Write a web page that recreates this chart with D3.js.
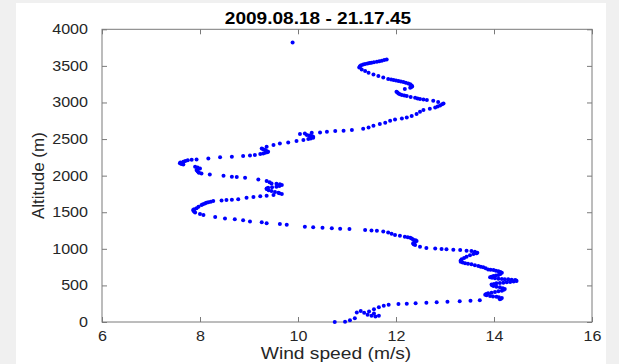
<!DOCTYPE html>
<html><head><meta charset="utf-8">
<script src="https://cdn.jsdelivr.net/npm/d3@7"></script>
<style>body{margin:0;background:#f0f0f0;overflow:hidden}svg{display:block}</style>
</head><body>
<svg id="c" width="619" height="364"></svg>
<script>
const title = "2009.08.18 - 21.17.45";
const xLabel = "Wind speed (m/s)";
const yLabel = "Altitude (m)";
const xTicks = [6, 8, 10, 12, 14, 16];
const yTicks = [0, 500, 1000, 1500, 2000, 2500, 3000, 3500, 4000];

const windSpeed = [
10.75,10.96,11.06,11.16,11.20,11.28,11.35,11.42,11.50,11.58,
11.65,11.55,11.45,11.55,11.65,11.75,11.85,12.05,12.22,12.40,
12.62,12.83,13.05,13.30,13.52,13.71,14.12,14.14,14.16,14.10,
14.05,13.98,13.92,13.85,13.82,13.84,13.88,13.95,14.02,14.09,
14.16,14.20,14.22,14.18,14.12,14.05,13.99,13.96,13.95,14.00,
14.05,14.12,14.19,14.26,14.33,14.40,14.46,14.45,14.43,14.36,
14.29,14.22,14.16,14.09,14.02,13.96,13.92,13.95,13.99,14.04,
14.09,14.13,14.16,14.13,14.09,14.04,13.99,13.93,13.88,13.83,
13.78,13.73,13.68,13.61,13.54,13.47,13.41,13.36,13.32,13.32,
13.34,13.39,13.44,13.51,13.58,13.64,13.66,13.61,13.54,13.44,
13.31,13.17,13.03,12.93,12.80,12.62,12.49,12.39,12.36,12.35,
12.38,12.42,12.40,12.35,12.32,12.29,12.24,12.18,12.08,11.98,
11.91,11.84,11.74,11.61,11.50,11.37,11.05,10.86,10.69,10.50,
10.31,10.14,9.77,9.63,9.36,9.26,9.02,8.88,8.71,8.51,
8.31,8.07,8.00,7.90,7.88,7.87,7.86,7.88,7.93,7.97,
8.03,8.06,8.10,8.13,8.17,8.22,8.27,8.44,8.54,8.65,
8.78,8.95,9.09,9.23,9.36,9.50,9.67,9.62,9.60,9.53,
9.46,9.40,9.36,9.36,9.39,9.47,9.56,9.62,9.67,9.63,
9.56,9.46,9.42,9.36,9.19,8.92,8.75,8.65,8.48,8.20,
8.03,7.98,7.97,7.95,7.93,7.95,8.00,7.95,7.90,7.66,
7.62,7.59,7.60,7.66,7.70,7.75,7.83,7.93,8.17,8.41,
8.65,8.88,9.02,9.12,9.23,9.29,9.33,9.37,9.39,9.36,
9.33,9.29,9.26,9.36,9.50,9.63,9.80,9.97,10.11,10.21,
10.26,10.31,10.31,10.28,10.23,10.18,10.04,10.14,10.28,10.45,
10.59,10.76,10.93,11.10,11.33,11.44,11.54,11.67,11.78,11.88,
11.98,12.12,12.22,12.32,12.42,12.49,12.56,12.69,12.80,12.85,
12.90,12.94,12.97,12.86,12.76,12.63,12.56,12.49,12.44,12.39,
12.30,12.22,12.17,12.12,12.08,12.05,12.03,12.01,12.18,12.29,
12.31,12.33,12.32,12.29,12.25,12.20,12.15,12.10,12.05,12.00,
11.95,11.90,11.84,11.74,11.64,11.54,11.44,11.37,11.30,11.25,
11.26,11.27,11.29,11.33,11.37,11.42,11.46,11.50,11.55,11.61,
11.66,11.71,11.76,11.81,9.89
];
const altitude = [
0,5,25,50,130,150,125,100,85,75,
85,115,145,175,200,222,235,246,250,255,
262,270,276,284,290,296,310,318,328,338,
346,350,355,364,373,383,392,400,410,419,
428,440,451,462,474,483,492,503,514,521,
528,532,537,542,546,553,560,567,574,579,
583,585,587,592,597,604,610,619,628,635,
642,656,674,683,692,701,710,715,719,733,
747,756,765,777,788,795,802,813,824,840,
856,874,892,911,929,938,947,961,970,974,
984,988,993,997,1004,1012,1029,1052,1064,1075,
1090,1107,1118,1129,1140,1152,1159,1166,1177,1189,
1205,1222,1236,1248,1252,1257,1270,1275,1280,1289,
1296,1302,1330,1339,1348,1362,1375,1390,1403,1416,
1435,1462,1475,1498,1510,1520,1530,1540,1553,1575,
1598,1610,1621,1628,1635,1645,1653,1662,1667,1671,
1676,1699,1708,1717,1726,1735,1749,1758,1767,1778,
1790,1802,1817,1826,1835,1842,1849,1860,1872,1882,
1890,1894,1910,1926,1949,1972,1981,1985,1999,2017,
2031,2038,2045,2060,2076,2090,2099,2110,2122,2154,
2160,2170,2180,2190,2200,2210,2218,2222,2236,2250,
2259,2268,2277,2281,2295,2304,2313,2320,2327,2338,
2350,2361,2372,2395,2418,2441,2454,2473,2486,2500,
2509,2518,2530,2541,2548,2555,2568,2577,2586,2591,
2600,2609,2614,2623,2641,2659,2682,2705,2723,2750,
2769,2782,2796,2814,2841,2873,2896,2914,2932,2945,
2960,2975,2987,3005,3024,3033,3040,3046,3055,3064,
3075,3087,3094,3101,3112,3124,3135,3147,3183,3201,
3210,3220,3233,3250,3260,3270,3279,3285,3292,3299,
3306,3313,3320,3342,3361,3383,3406,3429,3452,3479,
3488,3497,3510,3520,3527,3534,3538,3543,3549,3556,
3563,3570,3580,3588,3821
];

const svg = d3.select("#c");
const W = 619, H = 364;
const mLeft = 102, mRight = 592, mTop = 29.3, mBottom = 322;
const axisColor = "#7a7a7a", textColor = "#262626";
const font = "'Liberation Sans', Arial, Helvetica, sans-serif";

svg.append("rect").attr("x", 0).attr("y", 0).attr("width", W).attr("height", H).attr("fill", "#f0f0f0");
svg.append("rect").attr("x", 16).attr("y", 3).attr("width", 590).attr("height", H - 3).attr("fill", "#ffffff");

const x = d3.scaleLinear().domain([6, 16]).range([mLeft, mRight]);
const y = d3.scaleLinear().domain([0, 4000]).range([mBottom, mTop]);

function stretch(sel, k) {
  sel.each(function () {
    const len = this.getComputedTextLength();
    d3.select(this).attr("textLength", len * k).attr("lengthAdjust", "spacingAndGlyphs");
  });
}

const gx = svg.append("g").attr("transform", `translate(0,${mBottom})`)
  .call(d3.axisBottom(x).tickValues(xTicks).tickFormat(d3.format("d")).tickSizeInner(-5).tickSizeOuter(0).tickPadding(9.5));
const gxt = svg.append("g").attr("transform", `translate(0,${mTop})`)
  .call(d3.axisTop(x).tickValues(xTicks).tickFormat("").tickSizeInner(-5).tickSizeOuter(0));
const gy = svg.append("g").attr("transform", `translate(${mLeft},0)`)
  .call(d3.axisLeft(y).tickValues(yTicks).tickFormat(d3.format("d")).tickSizeInner(-5).tickSizeOuter(0).tickPadding(14));
const gyr = svg.append("g").attr("transform", `translate(${mRight},0)`)
  .call(d3.axisRight(y).tickValues(yTicks).tickFormat("").tickSizeInner(-5).tickSizeOuter(0));

[gx, gxt, gy, gyr].forEach(g => {
  g.select(".domain").remove();
  g.selectAll(".tick line").attr("stroke", axisColor);
  g.selectAll(".tick text").attr("fill", textColor).style("font-family", font).style("font-size", "14px");
});
stretch(gx.selectAll(".tick text"), 1.15);
stretch(gy.selectAll(".tick text"), 1.15);

svg.append("rect").attr("x", mLeft).attr("y", mTop).attr("width", mRight - mLeft).attr("height", mBottom - mTop)
  .attr("fill", "none").attr("stroke", axisColor).attr("stroke-width", 1);

const pts = windSpeed.map((v, i) => ({ v, a: altitude[i] }));
svg.append("g").selectAll("circle").data(pts).join("circle")
  .attr("cx", d => x(d.v)).attr("cy", d => y(d.a)).attr("r", 2).attr("fill", "#0000ff");

const t = svg.append("text").attr("x", 318).attr("y", 23.5).attr("text-anchor", "middle")
  .style("font-family", font).style("font-size", "17px").style("font-weight", "bold").attr("fill", "#000").text(title);
stretch(t, 1.12);
const xl = svg.append("text").attr("x", 336).attr("y", 359).attr("text-anchor", "middle")
  .style("font-family", font).style("font-size", "16px").attr("fill", textColor).text(xLabel);
stretch(xl, 1.2);
svg.append("text").attr("transform", `translate(44,${(mTop + mBottom) / 2}) rotate(-90)`).attr("text-anchor", "middle")
  .style("font-family", font).style("font-size", "17px").attr("fill", textColor).text(yLabel);
</script>
</body></html>
